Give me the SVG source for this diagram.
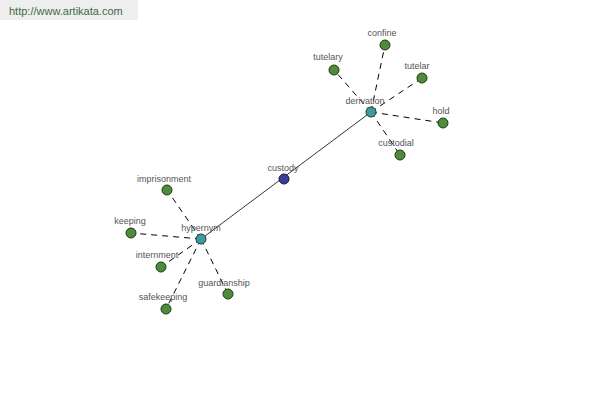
<svg xmlns="http://www.w3.org/2000/svg" width="600" height="400" viewBox="0 0 600 400">
<style>
.lbl{font-family:"Liberation Sans",Arial,sans-serif;font-size:9px;fill:#555;text-anchor:middle}
.leaf{fill:#4e8c3c;stroke:#1e3a14;stroke-width:1}
.hub{fill:#3f9a9a;stroke:#1a3a3a;stroke-width:1}
.root{fill:#3c3c9a;stroke:#14143a;stroke-width:1}
.dash{stroke:#000;stroke-width:1;stroke-dasharray:6,5;fill:none}
.solid{stroke:#000;stroke-width:0.8;fill:none}
</style>
<rect width="600" height="400" fill="#fff"/>
<rect x="0" y="0" width="138" height="20" fill="#eeeeee"/>
<text x="9" y="15" font-family="Liberation Sans,Arial,sans-serif" font-size="11" fill="#3d6b3d">http://www.artikata.com</text>
<g id="connectors">
<line class="solid" x1="201" y1="239" x2="371" y2="112"/>
<line class="dash" x1="371" y1="112" x2="385" y2="45"/>
<line class="dash" x1="371" y1="112" x2="334" y2="70"/>
<line class="dash" x1="371" y1="112" x2="422" y2="78"/>
<line class="dash" x1="371" y1="112" x2="443" y2="123"/>
<line class="dash" x1="371" y1="112" x2="400" y2="155"/>
<line class="dash" x1="201" y1="239" x2="167" y2="190"/>
<line class="dash" x1="201" y1="239" x2="131" y2="233"/>
<line class="dash" x1="201" y1="239" x2="161" y2="267"/>
<line class="dash" x1="201" y1="239" x2="166" y2="309"/>
<line class="dash" x1="201" y1="239" x2="228" y2="294"/>
</g>
<g id="custody"><circle class="root" cx="284" cy="179" r="5"/><text class="lbl" x="283" y="171">custody</text></g>
<g id="derivation"><circle class="hub" cx="371" cy="112" r="5"/><text class="lbl" x="365" y="104">derivation</text></g>
<g id="hypernym"><circle class="hub" cx="201" cy="239" r="5"/><text class="lbl" x="201" y="231">hypernym</text></g>
<g id="confine"><circle class="leaf" cx="385" cy="45" r="5"/><text class="lbl" x="382" y="36">confine</text></g>
<g id="tutelary"><circle class="leaf" cx="334" cy="70" r="5"/><text class="lbl" x="328" y="60">tutelary</text></g>
<g id="tutelar"><circle class="leaf" cx="422" cy="78" r="5"/><text class="lbl" x="417" y="69">tutelar</text></g>
<g id="hold"><circle class="leaf" cx="443" cy="123" r="5"/><text class="lbl" x="441" y="114">hold</text></g>
<g id="custodial"><circle class="leaf" cx="400" cy="155" r="5"/><text class="lbl" x="396" y="146">custodial</text></g>
<g id="imprisonment"><circle class="leaf" cx="167" cy="190" r="5"/><text class="lbl" x="164" y="182">imprisonment</text></g>
<g id="keeping"><circle class="leaf" cx="131" cy="233" r="5"/><text class="lbl" x="130" y="224">keeping</text></g>
<g id="internment"><circle class="leaf" cx="161" cy="267" r="5"/><text class="lbl" x="157" y="258">internment</text></g>
<g id="safekeeping"><circle class="leaf" cx="166" cy="309" r="5"/><text class="lbl" x="163" y="300">safekeeping</text></g>
<g id="guardianship"><circle class="leaf" cx="228" cy="294" r="5"/><text class="lbl" x="224" y="286">guardianship</text></g>
</svg>
